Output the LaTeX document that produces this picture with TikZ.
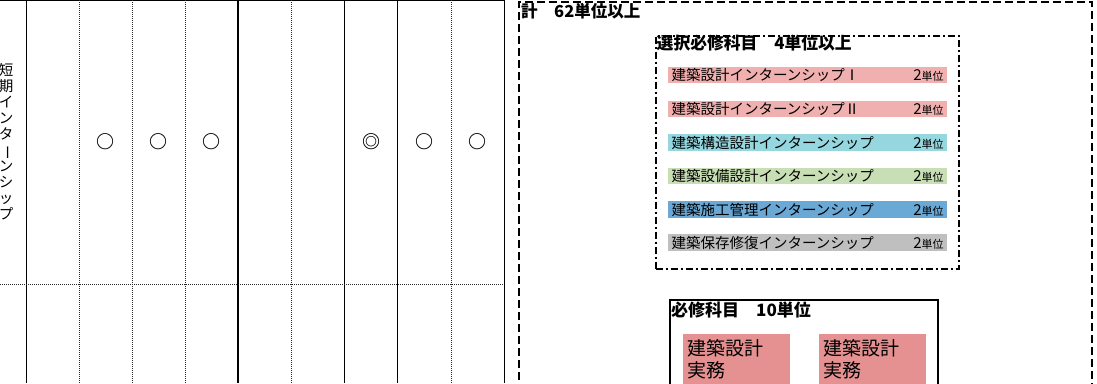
\documentclass[tikz,border=0pt]{standalone}
\usepackage{fontspec}
\setmainfont{Noto Sans CJK JP}
\definecolor{barpink}{RGB}{240,176,176}
\definecolor{barcyan}{RGB}{150,214,222}
\definecolor{bargreen}{RGB}{200,222,180}
\definecolor{barblue}{RGB}{106,168,214}
\definecolor{bargray}{RGB}{191,191,191}
\definecolor{reqpink}{RGB}{230,145,145}
\newcommand\twocredit{{\fontsize{15}{16}\selectfont 2}{\fontsize{11}{16}\selectfont 単位}}
\tikzset{
  solidrule/.style={line width=1.2pt},
  dotrule/.style={line width=1pt, black!85, dash pattern=on 1pt off 1pt},
  sym/.style={font=\bfseries\fontsize{18}{18}\selectfont, inner sep=0pt},
  vlabel/.style={font=\fontsize{14.5}{16}\selectfont, align=center, inner sep=0pt},
  boxtitle/.style={anchor=west, inner sep=0pt, font=\bfseries},
  totalbox/.style={draw, line width=2.2pt, dash pattern=on 8pt off 4pt,
    anchor=north west, minimum width=573pt, minimum height=440pt},
  selectbox/.style={draw, line width=2pt, dash pattern=on 7pt off 3pt on 2pt off 3pt,
    anchor=north west, minimum width=303pt, minimum height=233pt},
  reqbox/.style={draw, line width=2.2pt, anchor=north west,
    minimum width=268pt, minimum height=140pt},
  bar/.style={anchor=west, minimum height=16.7pt, text width=272pt,
    inner xsep=3.5pt, inner ysep=0pt, align=left,
    font=\fontsize{14.5}{16}\selectfont},
  practice/.style={fill=reqpink, anchor=north west, text width=99pt,
    inner xsep=4pt, inner ysep=5pt, align=left,
    font=\fontsize{19}{22}\selectfont},
}
\begin{document}
\begin{tikzpicture}[x=1pt,y=-1pt]
  \useasboundingbox (0,0) rectangle (1097,383);
  % table
  \begin{scope}[solidrule]
    \draw (0,0.6) -- (504.3,0.6);
    \draw (26.3,0) -- (26.3,383);
    \draw (238,0) -- (238,383);
    \draw (344.3,0) -- (344.3,383);
    \draw (397.7,0) -- (397.7,383);
    \draw (504.3,0) -- (504.3,383);
  \end{scope}
  \begin{scope}[dotrule]
    \draw (0,284) -- (504,284);
    \draw (79,0) -- (79,383);
    \draw (132,0) -- (132,383);
    \draw (185,0) -- (185,383);
    \draw (291,0) -- (291,383);
    \draw (451,0) -- (451,383);
  \end{scope}
  \node[vlabel] (short) at (6,142)
    {短\\期\\イ\\ン\\タ\\\rotatebox[origin=c]{-90}{ー}\\ン\\シ\\ッ\\プ};
  \draw
    (105.5,142) node[sym] (c1){○}
    (158.5,142) node[sym] (c2){○}
    (211.5,142) node[sym] (c3){○}
    (371,142) node[sym] (c4){◎}
    (424,142) node[sym] (c5){○}
    (477.5,142) node[sym] (c6){○};
  % credits
  \node[totalbox] (total) at (517.7,1) {};
  \node[boxtitle, font=\bfseries\fontsize{16.5}{18}\selectfont] (totaltitle) at (521,11) {計　62単位以上};
  \node[selectbox] (select) at (654.5,34.5) {};
  \node[boxtitle, font=\bfseries\fontsize{16.8}{18}\selectfont] (selecttitle) at (656.5,43.5) {選択必修科目　4単位以上};
  \node[bar, fill=barpink] (b1) at (668,75) {建築設計インターンシップⅠ\hfill\twocredit};
  \node[bar, fill=barpink] (b2) at (668,109) {建築設計インターンシップⅡ\hfill\twocredit};
  \node[bar, fill=barcyan] (b3) at (668,142.5) {建築構造設計インターンシップ\hfill\twocredit};
  \node[bar, fill=bargreen] (b4) at (668,176) {建築設備設計インターンシップ\hfill\twocredit};
  \node[bar, fill=barblue] (b5) at (668,209.5) {建築施工管理インターンシップ\hfill\twocredit};
  \node[bar, fill=bargray] (b6) at (668,242.5) {建築保存修復インターンシップ\hfill\twocredit};
  \node[reqbox] (required) at (668.5,299) {};
  \node[boxtitle, font=\bfseries\fontsize{17}{19}\selectfont] (requiredtitle) at (671,310) {必修科目　10単位};
  \node[practice] (p1) at (683,334) {建築設計\\実務};
  \node[practice] (p2) at (819,334) {建築設計\\実務};
\end{tikzpicture}
\end{document}
